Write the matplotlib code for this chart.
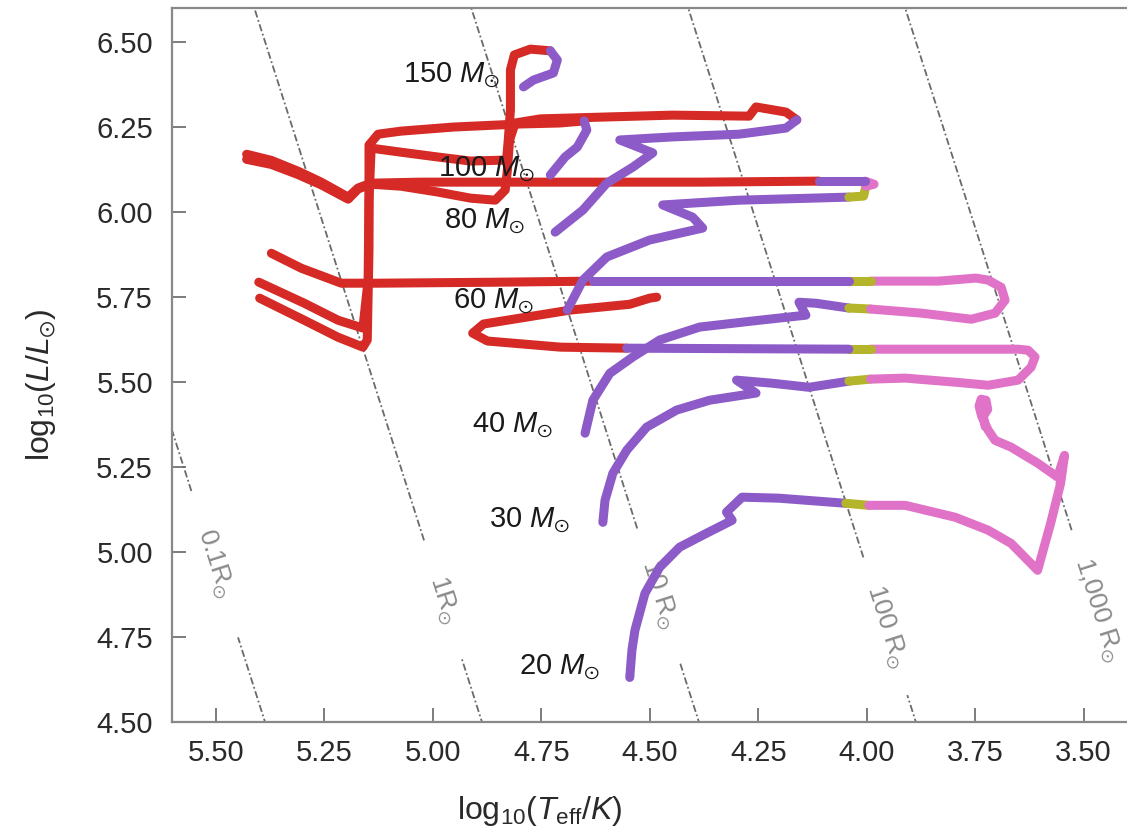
import numpy as np
import matplotlib.pyplot as plt

plt.rcParams['font.family'] = ['Liberation Sans', 'DejaVu Sans']
plt.rcParams['mathtext.fontset'] = 'custom'
plt.rcParams['mathtext.rm'] = 'Liberation Sans'
plt.rcParams['mathtext.it'] = 'Liberation Sans:italic'
plt.rcParams['mathtext.bf'] = 'Liberation Sans:bold'
plt.rcParams['mathtext.fallback'] = 'stixsans'

# --- evolutionary tracks: log Teff, log L, phase of each segment ---
# phases: r = stripped (hot), p = H-rich, o = transition, k = red supergiant
T20 = [4.546, 4.541, 4.534, 4.511, 4.477, 4.431, 4.369, 4.310, 4.323, 4.287, 4.202, 4.048, 3.995, 3.911,
       3.796, 3.720, 3.667, 3.606, 3.576, 3.553, 3.544, 3.560, 3.606, 3.667, 3.704, 3.720, 3.735, 3.741,
       3.736, 3.725, 3.721, 3.731, 3.727]
L20 = [4.632, 4.712, 4.771, 4.879, 4.956, 5.015, 5.056, 5.094, 5.118, 5.162, 5.159, 5.144, 5.138, 5.138,
       5.103, 5.065, 5.026, 4.947, 5.085, 5.203, 5.285, 5.221, 5.262, 5.309, 5.329, 5.359, 5.400, 5.430,
       5.450, 5.447, 5.420, 5.400, 5.370]
P20 = "p" * 11 + "o" + "k" * 21

T30 = [4.608, 4.603, 4.585, 4.553, 4.507, 4.438, 4.362, 4.255, 4.300, 4.218, 4.133, 4.041, 3.991, 3.911,
       3.796, 3.720, 3.651, 3.621, 3.612, 3.628, 3.651, 3.759, 3.991, 4.041, 4.553, 4.706, 4.874, 4.908,
       4.883, 4.683, 4.546, 4.500, 4.484]
L30 = [5.088, 5.153, 5.232, 5.300, 5.368, 5.418, 5.447, 5.468, 5.506, 5.497, 5.485, 5.503, 5.509, 5.512,
       5.500, 5.491, 5.506, 5.544, 5.574, 5.594, 5.597, 5.597, 5.597, 5.597, 5.600, 5.603, 5.621, 5.644,
       5.671, 5.712, 5.729, 5.747, 5.750]
P30 = "p" * 11 + "o" + "k" * 10 + "o" + "p" + "r" * 9

T40 = [4.649, 4.631, 4.592, 4.539, 4.477, 4.385, 4.248, 4.140, 4.156, 4.117, 4.041, 3.991, 3.874, 3.759,
       3.704, 3.681, 3.690, 3.720, 3.748, 3.835, 3.991, 4.041, 4.631, 4.844, 5.126, 5.211, 5.303, 5.372]
L40 = [5.350, 5.447, 5.526, 5.574, 5.624, 5.662, 5.682, 5.697, 5.735, 5.732, 5.718, 5.715, 5.703, 5.685,
       5.703, 5.741, 5.779, 5.800, 5.806, 5.797, 5.797, 5.797, 5.797, 5.794, 5.791, 5.791, 5.835, 5.879]
P40 = "p" * 10 + "o" + "k" * 9 + "o" + "p" + "r" * 6

T60 = [4.690, 4.654, 4.599, 4.500, 4.378, 4.401, 4.470, 4.294, 4.041, 4.007, 4.002, 3.983, 4.004, 4.110,
       4.385, 4.752, 5.028, 5.142, 5.172, 5.195, 5.257, 5.310, 5.372, 5.429]
L60 = [5.712, 5.800, 5.868, 5.918, 5.953, 5.985, 6.021, 6.035, 6.044, 6.047, 6.076, 6.082, 6.091, 6.091,
       6.088, 6.088, 6.088, 6.085, 6.071, 6.044, 6.088, 6.120, 6.152, 6.170]
P60 = "p" * 8 + "oo" + "kk" + "p" + "r" * 11

T80 = [4.718, 4.654, 4.599, 4.539, 4.493, 4.569, 4.447, 4.294, 4.186, 4.161, 4.186, 4.255, 4.271, 4.447,
       4.615, 4.752, 4.810, 4.823, 4.828, 4.833, 4.856, 4.913, 4.989, 5.073, 5.142, 5.172, 5.195, 5.257,
       5.310, 5.372, 5.429]
L80 = [5.941, 6.006, 6.085, 6.132, 6.174, 6.212, 6.221, 6.229, 6.247, 6.271, 6.294, 6.309, 6.282, 6.285,
       6.279, 6.274, 6.262, 6.212, 6.124, 6.065, 6.035, 6.041, 6.059, 6.076, 6.082, 6.068, 6.038, 6.080,
       6.110, 6.140, 6.155]
P80 = "p" * 9 + "r" * 22

T100 = [4.729, 4.695, 4.667, 4.645, 4.651, 4.706, 4.798, 4.952, 5.073, 5.126, 5.147, 5.147, 5.151, 5.161,
        5.218, 5.296, 5.399]
L100 = [6.109, 6.162, 6.191, 6.241, 6.268, 6.262, 6.259, 6.250, 6.238, 6.229, 6.197, 5.888, 5.624, 5.603,
        5.632, 5.682, 5.747]
P100 = "p" * 4 + "r" * 13

T150 = [4.791, 4.768, 4.722, 4.713, 4.729, 4.775, 4.812, 4.821, 4.821, 4.826, 4.830, 4.913, 4.989, 5.073,
        5.142, 5.147, 5.149, 5.161, 5.218, 5.296, 5.401]
L150 = [6.368, 6.388, 6.409, 6.447, 6.474, 6.479, 6.462, 6.418, 6.300, 6.212, 6.153, 6.150, 6.162, 6.176,
        6.188, 6.035, 5.800, 5.659, 5.682, 5.732, 5.794]
P150 = "p" * 4 + "r" * 17

tracks = [(T20, L20, P20), (T30, L30, P30), (T40, L40, P40), (T60, L60, P60),
          (T80, L80, P80), (T100, L100, P100), (T150, L150, P150)]

# mass labels (right end / baseline position)
mass_names = ['150', '100', '80', '60', '40', '30', '20']
mass_T = [4.844, 4.764, 4.787, 4.766, 4.722, 4.683, 4.615]
mass_L = [6.382, 6.106, 5.953, 5.718, 5.353, 5.074, 4.641]

# lines of constant radius
radii = [0.1, 1, 10, 100, 1000]
radius_names = ['0.1R', '1R', '10 R', '100 R', '1,000 R']
gap_lo = [4.75, 4.69, 4.68, 4.58, 4.40]
gap_hi = [5.18, 5.035, 5.07, 4.985, 5.065]
radius_label_L = [4.965, 4.86, 4.875, 4.78, 4.83]
logT_sun = np.log10(5772)

phase_colors = {'r': '#d52a25', 'p': '#8c5bc8', 'o': '#b5b52b', 'k': '#e073c7'}
phase_z = {'r': 3, 'p': 4, 'o': 4, 'k': 4}

fig, ax = plt.subplots(figsize=(11.27, 8.39), dpi=100)
fig.subplots_adjust(left=0.153, right=1.0, bottom=0.139, top=0.9905)
ax.set_xlim(5.6, 3.4)
ax.set_ylim(4.5, 6.6)


def radius_T(logL, R):
    return logT_sun + (np.asarray(logL) - 2 * np.log10(R)) / 4


line_color = '#6a6a6a'
for R, lo, hi in zip(radii, gap_lo, gap_hi):
    for a, b in [(4.45, lo), (hi, 6.7)]:
        if b <= a:
            continue
        Ls = np.linspace(a, b, 50)
        ax.plot(radius_T(Ls, R), Ls, color=line_color, lw=1.3,
                dashes=(4, 1.5, 1, 1.5), zorder=1)

# angle of the radius lines on screen
fig.canvas.draw()
p1 = ax.transData.transform((radius_T(5.0, 10), 5.0))
p2 = ax.transData.transform((radius_T(4.8, 10), 4.8))
angle = np.degrees(np.arctan2(p2[1] - p1[1], p2[0] - p1[0]))

for R, name, Lc in zip(radii, radius_names, radius_label_L):
    ax.text(radius_T(Lc, R), Lc, name + r'$_{\odot}$', color='#8a8a8a', fontsize=19,
            rotation=angle, rotation_mode='anchor', ha='center', va='center', zorder=2)


def draw_track(T, L, phase):
    n = len(T)
    start = 0
    for i in range(1, n):
        if i == n - 1 or phase[i] != phase[start]:
            c = phase[start]
            ax.plot(T[start:i + 1], L[start:i + 1], color=phase_colors[c], lw=6.5,
                    solid_capstyle='round', solid_joinstyle='round', zorder=phase_z[c])
            start = i


for T, L, P in tracks:
    draw_track(T, L, P)

for name, t, l in zip(mass_names, mass_T, mass_L):
    ax.text(t, l, name + r' $M_{\odot}$', fontsize=21, color='#1a1a1a',
            ha='right', va='baseline', zorder=6)

ax.set_xticks(np.arange(5.5, 3.49, -0.25))
ax.set_yticks(np.arange(4.5, 6.51, 0.25))
ax.xaxis.set_major_formatter(plt.FormatStrFormatter('%.2f'))
ax.yaxis.set_major_formatter(plt.FormatStrFormatter('%.2f'))
ax.tick_params(axis='both', direction='in', length=10, width=1.2, color='#666666',
               labelsize=21, labelcolor='#2a2a2a')
ax.tick_params(axis='x', pad=12)
ax.tick_params(axis='y', pad=14)

for side in ['left', 'bottom', 'top']:
    ax.spines[side].set_color('#888888')
    ax.spines[side].set_linewidth(1.6)
ax.spines['right'].set_visible(False)

ax.set_xlabel(r'log$_{10}$($T_{\rm eff}$/$K$)', fontsize=23, color='#2a2a2a')
ax.set_ylabel(r'log$_{10}$($L$/$L_{\odot}$)', fontsize=23, color='#2a2a2a')
ax.xaxis.set_label_coords(0.385, -0.100)
ax.yaxis.set_label_coords(-0.120, 0.472)

plt.savefig('out.png', dpi=100)
